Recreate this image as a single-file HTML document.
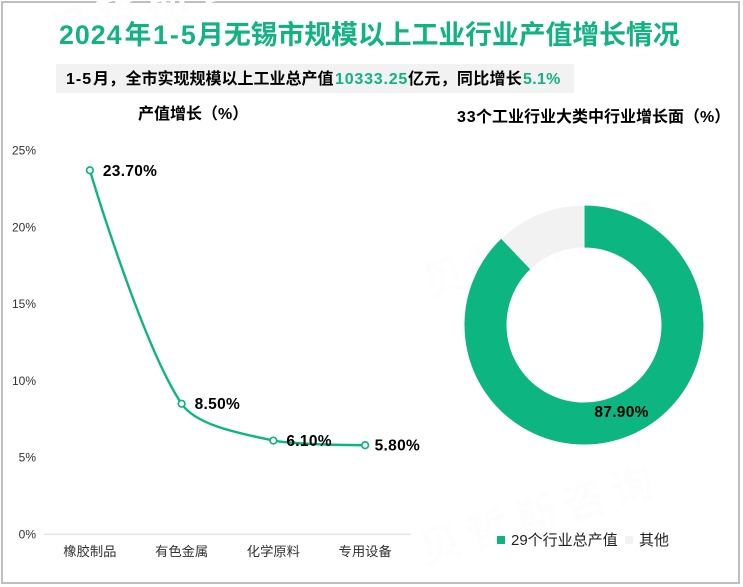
<!DOCTYPE html>
<html lang="zh">
<head>
<meta charset="utf-8">
<title>2024年1-5月无锡市规模以上工业行业产值增长情况</title>
<style>
html,body{margin:0;padding:0;background:#fff;}
svg{display:block;font-family:"Liberation Sans","Noto Sans CJK SC",sans-serif;}
</style>
</head>
<body>
<svg id="chart" width="743" height="587" viewBox="0 0 743 587" xmlns="http://www.w3.org/2000/svg">
  <rect x="0" y="0" width="743" height="587" fill="#fff"/>
  <rect x="2" y="2" width="737" height="581" fill="none" stroke="#bfbfbf" stroke-width="2"/>

  <g fill="#fdfdfd" font-size="42" font-weight="700" font-family="'Liberation Sans','Noto Sans CJK SC',sans-serif">
    <text transform="translate(55,48) rotate(-17)" letter-spacing="8">贝哲斯咨询</text>
    <text transform="translate(428,298) rotate(-17)" letter-spacing="8">贝哲斯咨询</text>
    <text transform="translate(425,565) rotate(-17)" letter-spacing="8">贝哲斯咨询</text>
  </g>

  <text y="44" font-size="26.8" font-weight="700" fill="#12b283"><tspan x="59" letter-spacing="1">2024</tspan><tspan x="124.5">年</tspan><tspan x="153" letter-spacing="2">1-5</tspan><tspan x="197">月</tspan><tspan x="224">无锡市规模以上工业行业产值增长情况</tspan></text>

  <rect x="56" y="64" width="518" height="29" fill="#f2f2f2"/>
  <text y="84" font-size="16" font-weight="700" fill="#000"><tspan x="66" letter-spacing="1">1-5</tspan><tspan x="93">月，</tspan><tspan x="125.5">全市实现规模以上工业总产值</tspan><tspan x="335" fill="#12b283" letter-spacing="0.8">10333.25</tspan><tspan x="408" letter-spacing="0.3">亿元，同比增长</tspan><tspan x="523" fill="#12b283" letter-spacing="0.3">5.1%</tspan></text>

  <text x="138" y="119" font-size="16" font-weight="700" fill="#000">产值增长（%）</text>
  <text y="122" font-size="16" font-weight="700" fill="#000"><tspan x="457" letter-spacing="0.8">33</tspan><tspan x="476">个工业行业大类中行业增长面（%）</tspan></text>

  <g id="lineChart"></g>
  <g id="donutChart"></g>

  <g>
    <rect x="497" y="536" width="8" height="8" fill="#0db580"/>
    <text x="511" y="545" font-size="15" fill="#222">29个行业总产值</text>
    <rect x="625" y="536" width="8" height="8" fill="#f2f2f2"/>
    <text x="639" y="545" font-size="15" fill="#222">其他</text>
  </g>
</svg>

<script>
var categories = ["橡胶制品", "有色金属", "化学原料", "专用设备"];
var growthValues = [23.7, 8.5, 6.1, 5.8];
var growthLabels = ["23.70%", "8.50%", "6.10%", "5.80%"];
var yTickValues = [0, 5, 10, 15, 20, 25];
var donutCategories = ["29个行业总产值", "其他"];
var donutValues = [87.9, 12.1];
var donutLabels = ["87.90%"];

var NS = "http://www.w3.org/2000/svg";
var TEAL = "#0db580";
var plotLeft = 44, plotRight = 411, plotBottom = 534.3, plotTop = 150.3, yMax = 25;

function yScale(v) { return plotBottom - (v / yMax) * (plotBottom - plotTop); }
function xScale(i) { return plotLeft + (i + 0.5) * (plotRight - plotLeft) / categories.length; }
function make(tag, attrs, parent) {
  var el = document.createElementNS(NS, tag);
  for (var k in attrs) el.setAttribute(k, attrs[k]);
  parent.appendChild(el);
  return el;
}

var lineRoot = document.getElementById("lineChart");

var axisLine = make("line", {x1: plotLeft, x2: plotRight, y1: yScale(0), y2: yScale(0), stroke: "#d9d9d9", "stroke-width": 1}, lineRoot);



yTickValues.forEach(function (t) {
  var label = make("text", {x: 36, y: yScale(t) + 4.2, "text-anchor": "end", "font-size": 12, fill: "#333"}, lineRoot);
  label.textContent = t + "%";
  
  
});

categories.forEach(function (c, i) {
  var label = make("text", {x: xScale(i), y: 556, "text-anchor": "middle", "font-size": 13.3, fill: "#333"}, lineRoot);
  label.textContent = c;
  
  
});

var pts = growthValues.map(function (v, i) { return [xScale(i), yScale(v)]; });
var smooth = 0.3;
function dist(a, b) { return Math.sqrt((a[0] - b[0]) * (a[0] - b[0]) + (a[1] - b[1]) * (a[1] - b[1])); }
function clamp(v, a, b) { return Math.max(Math.min(a, b), Math.min(Math.max(a, b), v)); }

var outCtrl = [], inCtrl = [];
pts.forEach(function (p, i) {
  if (i === 0 || i === pts.length - 1) { outCtrl[i] = p; inCtrl[i] = p; return; }
  var prev = pts[i - 1], next = pts[i + 1];
  var vx = (next[0] - prev[0]) * smooth, vy = (next[1] - prev[1]) * smooth;
  var d0 = dist(p, prev), d1 = dist(p, next), sum = d0 + d1;
  inCtrl[i] = [p[0] - vx * d0 / sum, clamp(p[1] - vy * d0 / sum, prev[1], p[1])];
  outCtrl[i] = [p[0] + vx * d1 / sum, clamp(p[1] + vy * d1 / sum, p[1], next[1])];
});
var d = "M" + pts[0][0] + "," + pts[0][1];
for (var i = 0; i < pts.length - 1; i++) {
  d += " C" + outCtrl[i][0] + "," + outCtrl[i][1] + " " + inCtrl[i + 1][0] + "," + inCtrl[i + 1][1] + " " + pts[i + 1][0] + "," + pts[i + 1][1];
}
var linePath = make("path", {d: d, fill: "none", stroke: TEAL, "stroke-width": 2.4}, lineRoot);



pts.forEach(function (p, i) {
  var dot = make("circle", {cx: p[0], cy: p[1], r: 3.3, fill: "#fff", stroke: TEAL, "stroke-width": 1.7}, lineRoot);
  
  
  var offset = i === pts.length - 1 ? 9.5 : 13;
  var lab = make("text", {x: p[0] + offset, y: p[1] + 5.5, "font-size": 15.5, "font-weight": 700, "letter-spacing": 0.3, fill: "#000"}, lineRoot);
  lab.textContent = growthLabels[i];
  
  
});

var donutRoot = document.getElementById("donutChart");
var cx = 584, cy = 325, rOuter = 120, rInner = 77;
var donutColors = [TEAL, "#f2f2f2"];
var total = donutValues.reduce(function (a, b) { return a + b; }, 0);
var startAngle = -Math.PI / 2;

function pt(r, a) { return (cx + r * Math.cos(a)) + "," + (cy + r * Math.sin(a)); }

donutValues.forEach(function (v, i) {
  var sweep = v / total * 2 * Math.PI;
  var end = startAngle + sweep;
  var large = sweep > Math.PI ? 1 : 0;
  var seg = make("path", {
    d: "M" + pt(rOuter, startAngle) + " A" + rOuter + "," + rOuter + " 0 " + large + " 1 " + pt(rOuter, end) +
       " L" + pt(rInner, end) + " A" + rInner + "," + rInner + " 0 " + large + " 0 " + pt(rInner, startAngle) + " Z",
    fill: donutColors[i], stroke: "#fff", "stroke-width": 1
  }, donutRoot);
  
  
  var t = document.createElementNS(NS, "title");
  t.textContent = donutCategories[i];
  seg.appendChild(t);
  if (donutLabels[i]) {
    var mid = startAngle + sweep / 2;
    var rL = (rOuter + rInner) / 2;
    var lab = make("text", {x: cx + rL * Math.cos(mid) + 1, y: cy + rL * Math.sin(mid) + 0.5, "text-anchor": "middle", "font-size": 15.5, "font-weight": 700, "letter-spacing": 0.3, fill: "#000"}, donutRoot);
    lab.textContent = donutLabels[i];
    
    
  }
  startAngle = end;
});
</script>
</body>
</html>
